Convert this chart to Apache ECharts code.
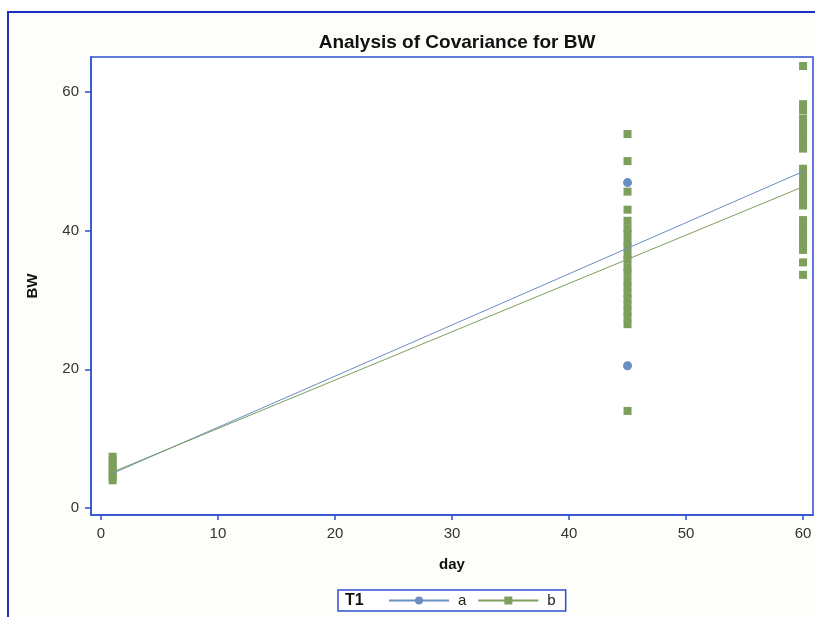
<!DOCTYPE html>
<html><head><meta charset="utf-8">
<script src="https://cdn.jsdelivr.net/npm/echarts@6/dist/echarts.min.js"></script>
<style>html,body{margin:0;padding:0;background:#fff}#c{width:815px;height:617px}</style>
</head><body><div id="c"></div>
<script>
// ---- data ----
const xTicks = [0, 10, 20, 30, 40, 50, 60];
const yTicks = [0, 20, 40, 60];
const groups = ['a', 'b'];
// group a (circles) - visible points
const dayA = [45, 45];
const bwA  = [46.9, 20.5];
// group b (squares)
const dayB = [1, 1, 1, 1, 1, 1, 1,
  45, 45, 45, 45, 45, 45, 45, 45, 45, 45, 45, 45, 45, 45, 45, 45, 45, 45, 45, 45, 45, 45,
  60, 60, 60, 60, 60, 60, 60, 60, 60, 60, 60, 60, 60, 60, 60, 60, 60, 60, 60, 60, 60, 60, 60, 60, 60];
const bwB  = [7.4, 6.8, 6.2, 5.6, 5.0, 4.5, 4.0,
  53.9, 50.0, 45.6, 43.0, 41.4, 40.3, 39.5, 38.4, 37.6, 36.5, 35.8, 34.7, 33.9, 32.8, 31.9, 31.0, 30.1, 29.2, 28.3, 27.5, 26.5, 14.0,
  63.7, 58.2, 57.3, 56.1, 55.2, 54.4, 53.5, 52.6, 51.8, 48.9, 47.9, 47.0, 46.2, 45.3, 44.4, 43.6, 41.5, 40.6, 39.7, 38.9, 38.0, 37.2, 35.4, 33.6];
// fitted ANCOVA lines
const fitDays = [1, 60];
const fitA = [5.0, 48.5];
const fitB = [5.2, 46.3];

// ---- styling ----
const BLUE = '#6a8dc4';
const GREEN = '#7c9f5c';
const FRAME = '#2f4fd1';
const FONT = "'Liberation Sans', Arial, sans-serif";

const pairs = (xs, ys) => xs.map((x, i) => [x, ys[i]]);

const chart = echarts.init(document.getElementById('c'), null, {renderer: 'canvas'});
chart.setOption({
  animation: false,
  backgroundColor: '#ffffff',
  textStyle: {fontFamily: FONT},
  title: {
    text: 'Analysis of Covariance for BW',
    left: 452, top: 28, textAlign: 'center',
    textStyle: {fontFamily: FONT, fontSize: 19, fontWeight: 'bold', color: '#111'}
  },
  graphic: [
    {type: 'rect', z: -10, silent: true,
     shape: {x: 8, y: 12, width: 830, height: 630},
     style: {fill: '#fdfdfa', stroke: '#1a30c0', lineWidth: 2}},
    {type: 'text', x: 345, y: 601, z: 100, silent: true,
     style: {text: 'T1', font: 'bold 16px ' + FONT, fill: '#111', verticalAlign: 'middle'}}
  ],
  grid: {
    left: 91, right: 2, top: 57, bottom: 102,
    show: true, backgroundColor: '#ffffff', borderColor: FRAME, borderWidth: 1.5
  },
  legend: {
    data: groups,
    left: 338, top: 590,
    padding: [3, 10, 3, 50],
    itemWidth: 60, itemHeight: 10, itemGap: 11,
    borderColor: FRAME, borderWidth: 1.5,
    backgroundColor: '#ffffff',
    textStyle: {fontFamily: FONT, fontSize: 15, color: '#222', padding: [0, 0, 0, 4]}
  },
  xAxis: {
    type: 'value', min: -0.85, max: 60.85,
    name: 'day', nameLocation: 'middle', nameGap: 42,
    nameTextStyle: {fontFamily: FONT, fontSize: 15, fontWeight: 'bold', color: '#111'},
    axisLine: {show: true, onZero: false, lineStyle: {color: FRAME, width: 1.5}},
    axisTick: {show: true, length: 5, customValues: xTicks, lineStyle: {color: FRAME, width: 1.5}},
    axisLabel: {customValues: xTicks, margin: 11, fontFamily: FONT, fontSize: 15, color: '#333'},
    splitLine: {show: false}
  },
  yAxis: {
    type: 'value', min: -1, max: 65,
    name: 'BW', nameLocation: 'middle', nameGap: 51, nameRotate: 90,
    nameTextStyle: {fontFamily: FONT, fontSize: 15, fontWeight: 'bold', color: '#111'},
    axisLine: {show: true, onZero: false, lineStyle: {color: FRAME, width: 1.5}},
    axisTick: {show: true, length: 6, customValues: yTicks, lineStyle: {color: FRAME, width: 1.5}},
    axisLabel: {customValues: yTicks, margin: 12, fontFamily: FONT, fontSize: 15, color: '#333'},
    splitLine: {show: false}
  },
  series: [
    {name: 'a', type: 'line', z: 3, silent: true, data: pairs(fitDays, fitA),
     symbol: 'circle', symbolSize: 9, showSymbol: false,
     lineStyle: {color: BLUE, width: 1}, itemStyle: {color: BLUE}},
    {name: 'b', type: 'line', z: 3, silent: true, data: pairs(fitDays, fitB),
     symbol: 'rect', symbolSize: 8, showSymbol: false,
     lineStyle: {color: GREEN, width: 1}, itemStyle: {color: GREEN}},
    {name: 'a', type: 'scatter', z: 2, silent: true, data: pairs(dayA, bwA),
     symbol: 'circle', symbolSize: 9, itemStyle: {color: BLUE, opacity: 1}},
    {name: 'b', type: 'scatter', z: 2, silent: true, data: pairs(dayB, bwB),
     symbol: 'rect', symbolSize: 8, itemStyle: {color: GREEN, opacity: 1}}
  ]
});
</script>
</body></html>
